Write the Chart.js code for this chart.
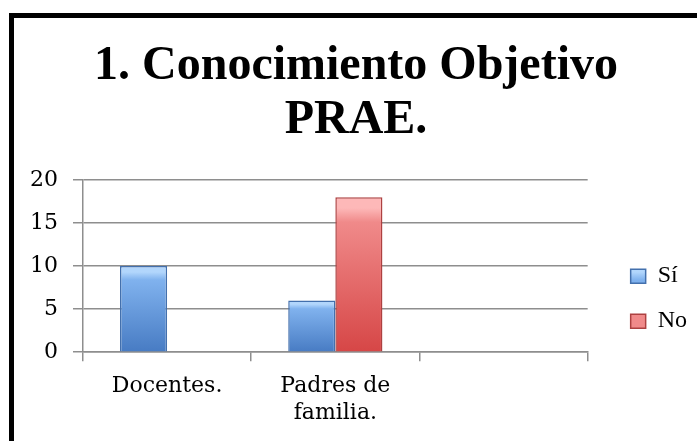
<!DOCTYPE html>
<html lang="es">
<head>
	<meta charset="utf-8">
	<title>Conocimiento Objetivo PRAE</title>
	<style>
body {
	margin: 0;
	background: #fff;
}
#frame {
	position: absolute;
	left: 9px;
	top: 13px;
	width: 720px;
	height: 470px;
	border: 5px solid #000;
}
#chartWrapper {
	position: absolute;
	left: 0;
	top: 0;
	width: 697px;
	height: 441px;
}
	</style>
</head>
<body>

<div id="frame"></div>
<div id="chartWrapper">
  <canvas id="myChart"></canvas>
</div>

<script src="https://cdn.jsdelivr.net/npm/chart.js"></script>
<script>
const categories = ['Docentes.', ['Padres de', 'familia.'], ''];
const siValues = [10, 6, null];
const noValues = [0, 18, null];
const yTicks = [0, 5, 10, 15, 20];

// vertical gradient from the top of each bar to the axis
function barFill(top, mid, bottom) {
	return ctx => {
		const chart = ctx.chart;
		if (!chart.chartArea || ctx.type !== 'data' || !ctx.parsed) return mid;
		const y = chart.scales.y;
		if (!y) return mid;
		const y0 = y.getPixelForValue(ctx.parsed.y);
		const y1 = y.getPixelForValue(0);
		if (!Number.isFinite(y0) || !Number.isFinite(y1) || y1 - y0 < 2) return mid;
		const g = chart.ctx.createLinearGradient(0, y0, 0, y1);
		g.addColorStop(0, top);
		g.addColorStop(0.07, top);
		g.addColorStop(0.16, mid);
		g.addColorStop(1, bottom);
		return g;
	};
}

const tickFont = { family: 'DejaVu Serif', size: 22 };

new Chart(document.getElementById('myChart'), {
	type: 'bar',
	data: {
		labels: categories,
		datasets: [
			{
				label: 'Sí',
				data: siValues,
				backgroundColor: barFill('#b2d6fc', '#80b2ee', '#477bc3'),
				borderColor: '#4370ad',
				borderWidth: 1.5,
				categoryPercentage: 0.56,
				barPercentage: 1.0
			},
			{
				label: 'No',
				data: noValues,
				backgroundColor: barFill('#fdb8b8', '#f08a8a', '#d64646'),
				borderColor: '#ad4141',
				borderWidth: 1.5,
				categoryPercentage: 0.56,
				barPercentage: 1.0
			}
		]
	},
	options: {
		responsive: true,
		maintainAspectRatio: false,
		animation: false,
		layout: { padding: { left: 15, right: 0, bottom: 3 } },
		scales: {
			x: {
				grid: { drawOnChartArea: false, color: '#8e8e8e', lineWidth: 1.5, tickLength: 9 },
				border: { color: '#8e8e8e', width: 1.5 },
				ticks: { color: '#000', font: tickFont, padding: 12, maxRotation: 0 }
			},
			y: {
				min: 0,
				max: 20,
				afterBuildTicks: s => { s.ticks = yTicks.map(v => ({ value: v })); },
				grid: { color: '#8e8e8e', lineWidth: 1.5, tickLength: 10 },
				border: { color: '#8e8e8e', width: 1.5 },
				ticks: { color: '#000', font: tickFont, padding: 15 }
			},
			gap: {
				position: 'right',
				display: true,
				grid: { display: false },
				border: { display: false },
				ticks: { display: false },
				afterFit: s => { s.width = 22; }
			}
		},
		plugins: {
			title: {
				display: true,
				text: ['1. Conocimiento Objetivo', 'PRAE.'],
				color: '#000',
				font: { family: 'Liberation Serif', size: 48, weight: 'bold', lineHeight: 1.125 },
				padding: { top: 40, bottom: 32 }
			},
			legend: {
				position: 'right',
				title: { display: true, text: '', font: { size: 12 }, padding: { top: 0, bottom: 145 } },
				labels: {
					color: '#000',
					font: { family: 'Liberation Serif', size: 24 },
					boxWidth: 15,
					boxHeight: 14,
					padding: 21
				}
			},
			tooltip: { enabled: false }
		}
	}
});
</script>
</body>
</html>
